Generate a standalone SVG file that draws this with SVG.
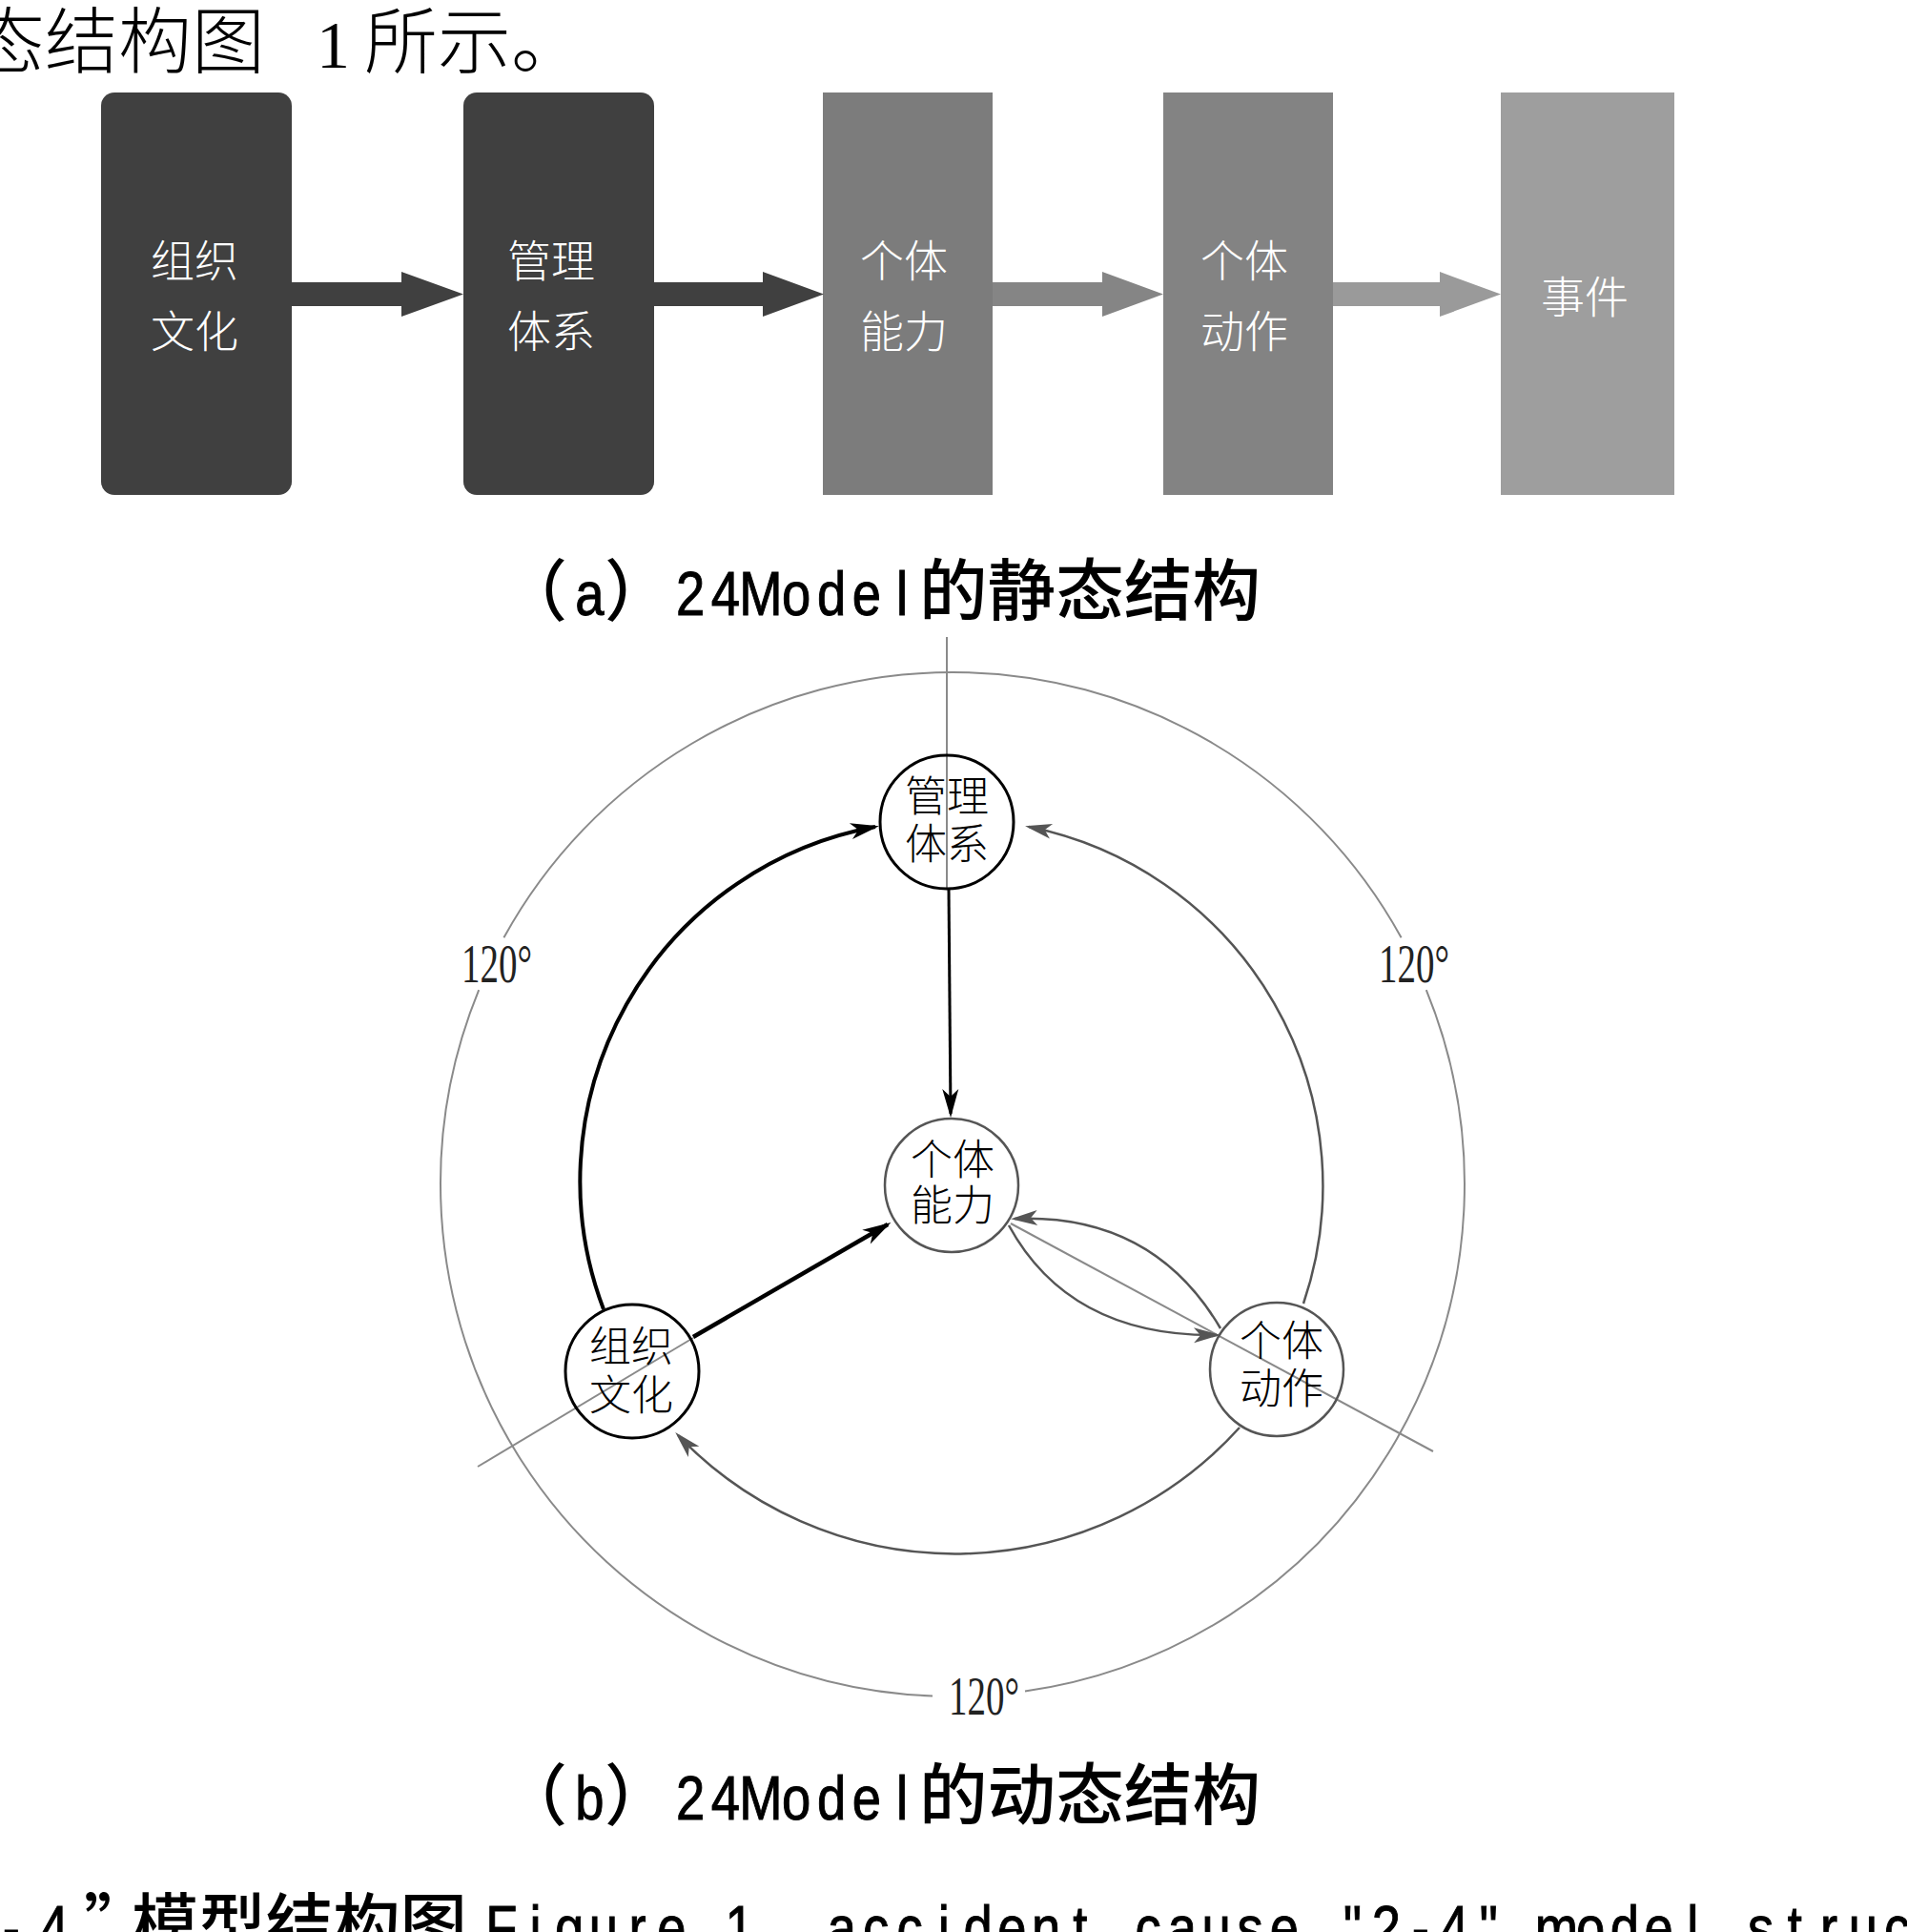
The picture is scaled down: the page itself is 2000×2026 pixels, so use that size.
<svg xmlns="http://www.w3.org/2000/svg" width="2000" height="2026" viewBox="0 0 2000 2026">
<defs>
<style>
.top{font-family:"Noto Sans CJK SC",sans-serif;font-size:76px;font-weight:300;fill:#000}
.topn{font-family:"Liberation Serif",serif;font-size:70px;fill:#000}
.box{font-family:"Noto Sans CJK SC",sans-serif;font-size:46px;font-weight:300;fill:#fff;text-anchor:middle}
.nd{font-family:"Noto Sans CJK SC",sans-serif;font-size:44px;font-weight:300;fill:#000;text-anchor:middle}
.capc{font-family:"Noto Sans CJK SC",sans-serif;font-size:70px;font-weight:500;fill:#000}
.capl{font-family:"Liberation Sans",Arial,sans-serif;font-size:64px;fill:#000;stroke:#000;stroke-width:1;text-anchor:middle}
.deg{font-family:"Liberation Serif",serif;font-size:56px;fill:#222;text-anchor:middle}
.guide{fill:none;stroke:#8a8a8a;stroke-width:2}
.blk{fill:none;stroke:#000}
.gry{fill:none;stroke:#555;stroke-width:2.5}
</style>
<marker id="hk" viewBox="-30 -10 36 20" refX="0" refY="0" markerWidth="36" markerHeight="20" markerUnits="userSpaceOnUse" orient="auto"><path d="M4,0 L-26,-8.5 L-18,0 L-26,8.5 z" fill="#000"/></marker>
<marker id="hg" viewBox="-30 -10 36 20" refX="0" refY="0" markerWidth="36" markerHeight="20" markerUnits="userSpaceOnUse" orient="auto"><path d="M4,0 L-24,-8 L-17,0 L-24,8 z" fill="#555"/></marker>
</defs>
<rect width="2000" height="2026" fill="#fff"/>

<!-- top running text -->
<text class="top" x="-30" y="71" textLength="308" lengthAdjust="spacingAndGlyphs">态结构图</text>
<text class="topn" x="332" y="71">1</text>
<text class="top" x="382" y="71" textLength="231" lengthAdjust="spacingAndGlyphs">所示。</text>

<!-- (a) static structure -->
<g id="static-boxes">
<g id="box-org"><rect x="106" y="97" width="200" height="422" rx="14" fill="#404040"/><text class="box" x="204" y="290">组织</text><text class="box" x="204" y="364">文化</text></g>
<g id="box-mgmt"><rect x="486" y="97" width="200" height="422" rx="14" fill="#404040"/><text class="box" x="578" y="290">管理</text><text class="box" x="578" y="364">体系</text></g>
<g id="box-ability"><rect x="863" y="97" width="178" height="422" fill="#7c7c7c"/><text class="box" x="948" y="290">个体</text><text class="box" x="948" y="364">能力</text></g>
<g id="box-action"><rect x="1220" y="97" width="178" height="422" fill="#838383"/><text class="box" x="1305" y="290">个体</text><text class="box" x="1305" y="364">动作</text></g>
<g id="box-event"><rect x="1574" y="97" width="182" height="422" fill="#9e9e9e"/><text class="box" x="1662" y="328">事件</text></g>
</g>
<g id="static-arrows">
<polygon points="306,296 421,296 421,285 486,308.5 421,332 421,321 306,321" fill="#404040"/>
<polygon points="686,296 800,296 800,285 864,308.5 800,332 800,321 686,321" fill="#404040"/>
<polygon points="1041,296 1156,296 1156,285 1220,308.5 1156,332 1156,321 1041,321" fill="#858585"/>
<polygon points="1398,296 1510,296 1510,285 1574,308.5 1510,332 1510,321 1398,321" fill="#9a9a9a"/>
</g>

<text class="capc" x="525" y="645">（</text>
<text class="capc" x="634" y="645">）</text>
<g transform="scale(0.85,1)">
<text class="capl" x="727.6" y="645">a</text>
<text class="capl" x="851.8 895.3 938.8 982.4 1025.9 1069.4 1112.9" y="645">24Model</text>
</g>
<text class="capc" x="964" y="645" textLength="358" lengthAdjust="spacingAndGlyphs">的静态结构</text>

<!-- (b) dynamic structure -->
<g id="guides">
<path class="guide" d="M978,1778.6 A537,537 0 0 1 502.2,1038.2"/>
<path class="guide" d="M528.4,983.3 A537,537 0 0 1 1469.6,983.3"/>
<path class="guide" d="M1495.8,1038.2 A537,537 0 0 1 1075,1773.6"/>
<line class="guide" x1="993" y1="668" x2="993" y2="932"/>
<line class="guide" x1="727" y1="1403" x2="501" y2="1538"/>
<line class="guide" x1="1060" y1="1283" x2="1503" y2="1522"/>
<text class="deg" x="521" y="1030" textLength="74" lengthAdjust="spacingAndGlyphs">120°</text>
<text class="deg" x="1483" y="1030" textLength="74" lengthAdjust="spacingAndGlyphs">120°</text>
<text class="deg" x="1032" y="1798" textLength="74" lengthAdjust="spacingAndGlyphs">120°</text>
</g>

<g id="connectors">
<path class="blk" stroke-width="3" d="M995,932 L997,1168" marker-end="url(#hk)"/>
<path class="blk" stroke-width="4.5" d="M727,1402 L931,1284" marker-end="url(#hk)"/>
<path class="blk" stroke-width="4" d="M633,1373 A378,378 0 0 1 918,867" marker-end="url(#hk)"/>
<path class="gry" d="M1367,1367 A384,384 0 0 0 1079,867" marker-end="url(#hg)"/>
<path class="gry" d="M1300,1497 A402,402 0 0 1 711,1505" marker-end="url(#hg)"/>
<path class="gry" d="M1280,1393 Q1209,1272 1064,1278" marker-end="url(#hg)"/>
<path class="gry" d="M1058,1285 Q1122,1402 1276,1400" marker-end="url(#hg)"/>
</g>

<g id="node-mgmt"><circle cx="993" cy="862" r="70" fill="none" stroke="#000" stroke-width="3"/><text class="nd" x="993" y="851">管理</text><text class="nd" x="993" y="901">体系</text></g>
<g id="node-ability"><circle cx="998" cy="1243" r="70" fill="none" stroke="#555" stroke-width="2.5"/><text class="nd" x="999" y="1232">个体</text><text class="nd" x="999" y="1280">能力</text></g>
<g id="node-org"><circle cx="663" cy="1438" r="70" fill="none" stroke="#000" stroke-width="3"/><text class="nd" x="662" y="1428">组织</text><text class="nd" x="662" y="1479">文化</text></g>
<g id="node-action"><circle cx="1339" cy="1436" r="70" fill="none" stroke="#555" stroke-width="2.5"/><text class="nd" x="1344" y="1422">个体</text><text class="nd" x="1344" y="1472">动作</text></g>

<text class="capc" x="525" y="1908">（</text>
<text class="capc" x="634" y="1908">）</text>
<g transform="scale(0.85,1)">
<text class="capl" x="727.6" y="1908">b</text>
<text class="capl" x="851.8 895.3 938.8 982.4 1025.9 1069.4 1112.9" y="1908">24Model</text>
</g>
<text class="capc" x="964" y="1908" textLength="358" lengthAdjust="spacingAndGlyphs">的动态结构</text>

<!-- bottom figure title line (cut by the frame) -->
<text class="capc" x="88" y="2044">”</text>
<text class="capc" x="138" y="2044" textLength="352" lengthAdjust="spacingAndGlyphs">模型结构图</text>
<g transform="scale(0.85,1)">
<text class="capl" x="14 67" y="2044">-4</text>
<text class="capl" x="618.6 660.6 702.6 744.6 786.6 828.6" y="2044">Figure</text>
<text class="capl" x="912.6" y="2044">1</text>
<text class="capl" x="1038.6 1080.6 1122.6 1164.6 1206.6 1248.6 1290.6 1332.6" y="2044">accident</text>
<text class="capl" x="1416.6 1458.6 1500.6 1542.6 1584.6" y="2044">cause</text>
<text class="capl" x="1668.6 1710.6 1752.6 1794.6 1836.6" y="2044">"2-4"</text>
<text class="capl" x="1920.6 1962.6 2004.6 2046.6 2088.6" y="2044">model</text>
<text class="capl" x="2172.6 2214.6 2256.6 2298.6 2340.6" y="2044">struc</text>
</g>
</svg>
